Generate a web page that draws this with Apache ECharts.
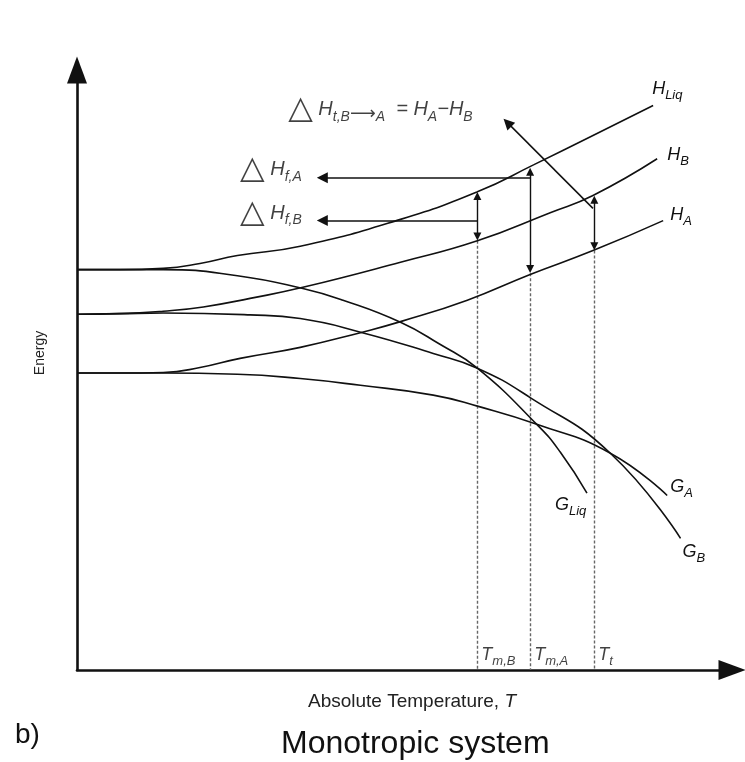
<!DOCTYPE html>
<html>
<head>
<meta charset="utf-8">
<script src="https://cdn.jsdelivr.net/npm/echarts@6/dist/echarts.min.js"></script>
<style>
html,body{margin:0;padding:0;background:#fff}
#main{width:745px;height:762px}
</style>
</head>
<body>
<div id="main"></div>
<script>
// [T, energy] points (arbitrary units, both axes 0..98)
var hLiq = [[0,65.4],[6.4,65.4],[12.9,65.6],[18.4,66.4],[24.0,67.7],[33.4,69.2],[48.4,73.6],[59.9,78.1],[68.3,82.5],[77.2,87.3],[86.2,92.2]];
var hB   = [[0,58.1],[6.4,58.2],[12.9,58.6],[18.9,59.3],[25.9,60.7],[33.8,62.5],[48.4,66.6],[59.9,70.1],[70.8,74.7],[77.2,77.5],[86.8,83.5]];
var hA   = [[0,48.5],[6.4,48.5],[12.9,48.6],[18.4,49.4],[24.4,50.9],[33.4,52.7],[42.4,55.1],[48.4,56.9],[58.4,60.4],[67.8,64.6],[77.2,68.5],[87.7,73.4]];
var gLiq = [[0,65.4],[6.4,65.4],[12.9,65.4],[24.0,64.4],[33.8,62.3],[39.8,60.4],[48.4,56.8],[54.3,53.2],[59.9,49.3],[68.9,40.0],[72.3,35.6],[76.3,28.9]];
var gB   = [[0,58.1],[6.4,58.2],[12.9,58.3],[25.9,58.0],[33.4,57.4],[42.7,55.1],[53.3,51.7],[59.9,49.3],[67.8,44.5],[79.8,35.4],[90.3,21.5]];
var gA   = [[0,48.5],[12.4,48.5],[24.0,48.3],[33.4,47.6],[42.4,46.5],[53.3,44.9],[59.9,43.1],[68.9,40.1],[79.8,35.4],[88.3,28.5]];

// transition temperatures: Tm,B  Tm,A  Tt
var tMarks = [59.9, 67.8, 77.4];
var tLabels = ['{h|T}{s|m,B}', '{h|T}{s|m,A}', '{h|T}{s|t}'];
// top of each dashed drop line
var dashTop = [70.1, 64.8, 68.5];

// double-headed enthalpy gaps
var gapFB = [[59.9,77.4],[59.9,70.8]];
var gapFA = [[67.8,81.4],[67.8,65.5]];
var gapT  = [[77.4,76.8],[77.4,69.2]];
// pointer arrows to the labels
var ptrFA = [[67.8,80.4],[36.7,80.4]];
var ptrFB = [[59.9,73.4],[36.7,73.4]];
var ptrT  = [[77.2,75.4],[64.4,89.4]];

// annotation anchors (left edge of text)
var annPts = [[31.6,91.5],[24.4,81.7],[24.4,74.6]];
var annTexts = [
  '{d|△}{hb| H}{sb|t,B}{sa|⟶}{sb|A}{hb|  = H}{sb|A}{hb|−H}{sb|B}',
  '{d|△}{hb| H}{sb|f,A}',
  '{d|△}{hb| H}{sb|f,B}'
];

var FONT = 'Liberation Sans';
var rich = {
  h:  {fontFamily: FONT, fontStyle: 'italic', fontSize: 18, lineHeight: 26, color: '#111', verticalAlign: 'middle'},
  s:  {fontFamily: FONT, fontStyle: 'italic', fontSize: 13, lineHeight: 14, color: '#111', verticalAlign: 'bottom'},
  hb: {fontFamily: FONT, fontStyle: 'italic', fontSize: 20, lineHeight: 28, color: '#111', verticalAlign: 'middle'},
  sb: {fontFamily: FONT, fontStyle: 'italic', fontSize: 14, lineHeight: 15, color: '#111', verticalAlign: 'bottom'},
  sa: {fontFamily: 'DejaVu Sans', fontSize: 18, lineHeight: 15, color: '#111', verticalAlign: 'bottom'},
  d:  {fontFamily: 'DejaVu Sans', fontSize: 32, lineHeight: 28, color: '#111', verticalAlign: 'middle'}
};

function curve(data, text, off) {
  return {
    type: 'line', data: data, smooth: 0.5,
    symbol: 'none', silent: true,
    lineStyle: {color: '#111', width: 1.6},
    endLabel: {show: true, distance: 0, offset: off, align: 'left', verticalAlign: 'middle',
      formatter: function () { return text; }, rich: rich}
  };
}

var myChart = echarts.init(document.getElementById('main'));
var option = {
  animation: false,
  backgroundColor: '#fff',
  title: [
    {text: 'Monotropic system', left: 281, top: 728, padding: 0,
      textStyle: {fontFamily: FONT, fontSize: 32, fontWeight: 'normal', color: '#111'}},
    {text: 'b)', left: 15, top: 721, padding: 0,
      textStyle: {fontFamily: FONT, fontSize: 28, fontWeight: 'normal', color: '#111'}}
  ],
  grid: {left: 77, right: 13, top: 70, bottom: 92},
  xAxis: {
    type: 'value', min: 0, max: 98,
    name: '{n|Absolute Temperature, }{i|T}', nameLocation: 'middle', nameGap: 22,
    nameTextStyle: {padding: [0, 0, 0, 15], rich: {
      n: {fontFamily: FONT, fontSize: 19, color: '#222'},
      i: {fontFamily: FONT, fontSize: 19, fontStyle: 'italic', color: '#222'}}},
    axisLine: {symbol: ['none', 'triangle'], symbolSize: [20, 27], lineStyle: {color: '#111', width: 2.6}},
    axisTick: {show: false}, axisLabel: {show: false}, splitLine: {show: false}
  },
  yAxis: {
    type: 'value', min: 0, max: 98,
    name: 'Energy', nameLocation: 'middle', nameGap: 30, nameRotate: 90,
    nameTextStyle: {fontFamily: FONT, fontSize: 14, color: '#222', padding: [0, 0, 0, 34]},
    axisLine: {symbol: ['none', 'triangle'], symbolSize: [20, 27], lineStyle: {color: '#111', width: 2.6}},
    axisTick: {show: false}, axisLabel: {show: false}, splitLine: {show: false}
  },
  series: [
    {
      type: 'lines', coordinateSystem: 'cartesian2d', silent: true,
      symbol: 'none',
      lineStyle: {color: '#666', width: 1.4, type: [3, 2], opacity: 1},
      data: tMarks.map(function (t, i) { return {coords: [[t, dashTop[i]], [t, 0]]}; })
    },
    curve(hLiq, '{h|H}{s|Liq}', [-1, -17]),
    curve(hB, '{h|H}{s|B}', [10, -4]),
    curve(hA, '{h|H}{s|A}', [7, -6]),
    curve(gLiq, '{h|G}{s|Liq}', [-32, 12]),
    curve(gB, '{h|G}{s|B}', [2, 14]),
    curve(gA, '{h|G}{s|A}', [3, -9]),
    {
      type: 'lines', coordinateSystem: 'cartesian2d', silent: true,
      symbol: ['triangle', 'triangle'], symbolSize: 8,
      lineStyle: {color: '#111', width: 1.4, opacity: 1},
      data: [{coords: gapFB}, {coords: gapFA}, {coords: gapT}]
    },
    {
      type: 'lines', coordinateSystem: 'cartesian2d', silent: true,
      symbol: ['none', 'triangle'], symbolSize: 11,
      lineStyle: {color: '#111', width: 1.5, opacity: 1},
      data: [{coords: ptrFA}, {coords: ptrFB}, {coords: ptrT}]
    },
    {
      type: 'scatter', symbolSize: 0, silent: true,
      label: {show: true, position: 'right', distance: 0, rich: rich},
      data: annPts.map(function (p, i) {
        return {value: p, label: {formatter: annTexts[i]}};
      })
    },
    {
      type: 'scatter', symbolSize: 0, silent: true,
      label: {show: true, position: 'right', distance: 0, offset: [4, -15], rich: rich},
      data: tMarks.map(function (t, i) {
        return {value: [t, 0], label: {formatter: tLabels[i]}};
      })
    }
  ]
};
myChart.setOption(option);
</script>
</body>
</html>
